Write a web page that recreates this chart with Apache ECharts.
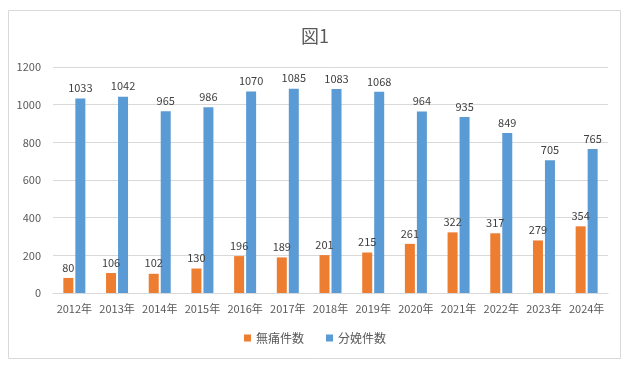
<!DOCTYPE html>
<html><head><meta charset="utf-8">
<script src="https://cdn.jsdelivr.net/npm/echarts@6/dist/echarts.min.js"></script>
<style>html,body{margin:0;padding:0;background:#fff}#c{width:630px;height:365px}</style>
</head><body><div id="c"></div>
<script>
const categories = ['2012年','2013年','2014年','2015年','2016年','2017年','2018年','2019年','2020年','2021年','2022年','2023年','2024年'];
const mutsuu = [80,106,102,130,196,189,201,215,261,322,317,279,354];
const bunben = [1033,1042,965,986,1070,1085,1083,1068,964,935,849,705,765];
const seriesNames = ['無痛件数','分娩件数'];
const FONT = '"Noto Sans CJK JP", "Liberation Sans", sans-serif';
const chart = echarts.init(document.getElementById('c'));
chart.setOption({
  animation:false,
  textStyle:{fontFamily:FONT},
  graphic:[{type:'rect',shape:{x:8.5,y:10.5,width:612,height:348},style:{fill:'none',stroke:'#d9d9d9',lineWidth:1},silent:true}],
  title:{text:'図1',left:'center',top:22,textStyle:{fontFamily:FONT,fontSize:18,fontWeight:'normal',color:'#595959'}},
  legend:{data:seriesNames,bottom:16,left:'center',itemWidth:7,itemHeight:7,itemGap:22,icon:'rect',textStyle:{fontFamily:FONT,fontSize:12,color:'#595959'}},
  grid:{left:53,right:22,top:67,bottom:72,containLabel:false},
  xAxis:{type:'category',data:categories,axisLine:{lineStyle:{color:'#d9d9d9'}},axisTick:{show:false},
    axisLabel:{color:'#595959',fontSize:11,margin:10,fontFamily:FONT,interval:0}},
  yAxis:{type:'value',min:0,max:1200,interval:200,axisLine:{show:false},axisTick:{show:false},
    splitLine:{lineStyle:{color:'#d9d9d9'}},axisLabel:{color:'#595959',fontSize:11,margin:12,fontFamily:FONT,formatter:v=>String(v)}},
  series:[
    {name:seriesNames[0],type:'bar',data:mutsuu,barWidth:10,barGap:'20%',itemStyle:{color:'#ED7D31'},
     label:{show:true,position:'top',distance:5,color:'#404040',fontSize:11,fontFamily:FONT}},
    {name:seriesNames[1],type:'bar',data:bunben,barWidth:10,itemStyle:{color:'#5B9BD5'},
     label:{show:true,position:'top',distance:5,color:'#404040',fontSize:11,fontFamily:FONT}}
  ]
});
</script></body></html>
